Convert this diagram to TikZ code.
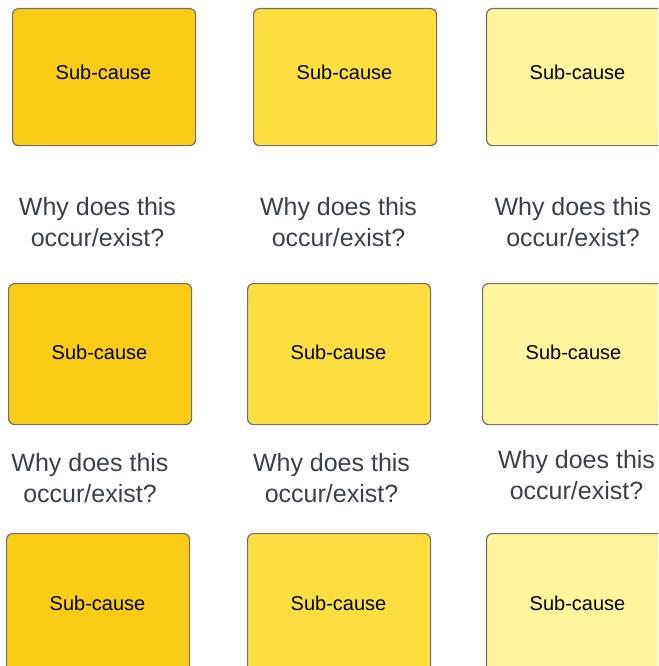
\documentclass[tikz,border=0pt]{standalone}
\usepackage{fontspec}
\setmainfont{Liberation Sans}
\definecolor{ydark}{HTML}{FACC15}
\definecolor{ymid}{HTML}{FFDF3F}
\definecolor{ylight}{HTML}{FFF59D}
\definecolor{boxline}{HTML}{707070}
\definecolor{qtext}{HTML}{3A414B}
\tikzset{
  subbox/.style={draw=boxline, line width=1.2pt, rounded corners=6pt, minimum width=183pt, minimum height=#1, inner sep=0pt, anchor=north west},
  subbox/.default=137pt,
  subtext/.style={font=\fontsize{20}{24}\selectfont, text=black, inner sep=0pt},
  question/.style={font=\fontsize{25}{31}\selectfont, text=qtext, align=center, inner sep=0pt}
}
\begin{document}
\begin{tikzpicture}[x=1pt,y=-1pt]
\useasboundingbox (0,0) rectangle (658,666);
\clip (0,0) rectangle (658,666);
% row 1
\node[subbox, fill=ydark] (a1) at (12,8) {};
\node[subbox, fill=ymid] (b1) at (253,8) {};
\node[subbox, fill=ylight] (c1) at (486,8) {};
\node[subtext] (ta1) at (103.5,72.5) {Sub-cause};
\node[subtext] (tb1) at (344.5,72.5) {Sub-cause};
\node[subtext] (tc1) at (577.5,72.5) {Sub-cause};
\node[question] (qa1) at (97.5,222.5) {Why does this\\occur/exist?};
\node[question] (qb1) at (338.5,222.5) {Why does this\\occur/exist?};
\node[question] (qc1) at (573,222.5) {Why does this\\occur/exist?};
% row 2
\node[subbox=141pt, fill=ydark] (a2) at (8,283) {};
\node[subbox=141pt, fill=ymid] (b2) at (247,283) {};
\node[subbox=141pt, fill=ylight] (c2) at (482,283) {};
\node[subtext] (ta2) at (99.5,352.5) {Sub-cause};
\node[subtext] (tb2) at (338.5,352.5) {Sub-cause};
\node[subtext] (tc2) at (573.5,352.5) {Sub-cause};
\node[question] (qa2) at (90,478) {Why does this\\occur/exist?};
\node[question] (qb2) at (331.5,478) {Why does this\\occur/exist?};
\node[question] (qc2) at (576.5,475) {Why does this\\occur/exist?};
% row 3
\node[subbox=141pt, fill=ydark] (a3) at (6,533) {};
\node[subbox=141pt, fill=ymid] (b3) at (247,533) {};
\node[subbox=141pt, fill=ylight] (c3) at (486,533) {};
\node[subtext] (ta3) at (97.5,603) {Sub-cause};
\node[subtext] (tb3) at (338.5,603) {Sub-cause};
\node[subtext] (tc3) at (577.5,603) {Sub-cause};
\end{tikzpicture}
\end{document}
